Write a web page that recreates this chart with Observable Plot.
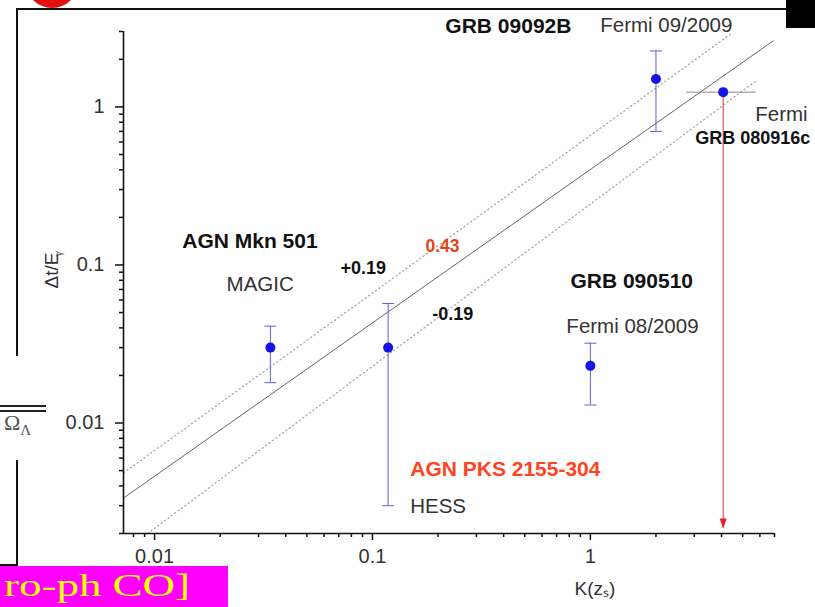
<!DOCTYPE html>
<html><head><meta charset="utf-8">
<script src="https://cdn.jsdelivr.net/npm/d3@7"></script>
<script src="https://cdn.jsdelivr.net/npm/@observablehq/plot@0.6"></script>
<style>
html,body{margin:0;padding:0;background:#fff;}
#wrap{position:relative;width:815px;height:607px;overflow:hidden;font-family:"Liberation Sans",Arial,sans-serif;}
#wrap svg{position:absolute;left:0;top:0;}
.d{position:absolute;}
</style></head><body><div id="wrap"></div>
<script>
// ---- data ----
const sources = ["AGN Mkn 501", "AGN PKS 2155-304", "GRB 090510", "GRB 090926", "GRB 080916c"];
const kz      = [0.034, 0.118, 1.0, 2.0, 4.07];
const dtE     = [0.030, 0.030, 0.023, 1.50, 1.24];
const dtELow  = [0.018, 0.0030, 0.013, 0.70, null];
const dtEHigh = [0.041, 0.057, 0.032, 2.26, null];
const kzLow   = [null, null, null, null, 2.76];
const kzHigh  = [null, null, null, null, 5.77];
const limitTo = [null, null, null, null, 0.00215];

// fit line (0.43) and its ±0.19 band, endpoints
const fitX = [0.0072, 6.91], fitY = [0.00335, 2.62];
const upX  = [0.0072, 4.48], upY  = [0.00483, 2.94];
const loX  = [0.0093, 5.83], loY  = [0.002, 1.48];

// ticks
const xMajor = [0.01, 0.1, 1];
const xMajorLabels = ["0.01", "0.1", "1"];
const xMinor = [0.008, 0.009, 0.02, 0.03, 0.04, 0.05, 0.06, 0.07, 0.08, 0.09, 0.2, 0.3, 0.4, 0.5, 0.6, 0.7, 0.8, 0.9, 2, 3, 4, 5, 6, 7];
const yMajor = [0.01, 0.1, 1];
const yMajorLabels = ["0.01", "0.1", "1"];
const yMinor = [0.002, 0.003, 0.004, 0.005, 0.006, 0.007, 0.008, 0.009, 0.02, 0.03, 0.04, 0.05, 0.06, 0.07, 0.08, 0.09, 0.2, 0.3, 0.4, 0.5, 0.6, 0.7, 0.8, 0.9, 2, 3];

// annotations (anchored at their left edge, in data units)
const boldText = ["GRB 09092B", "AGN Mkn 501", "GRB 090510"];
const boldX = [0.216, 0.0134, 0.81];
const boldY = [3.26, 0.142, 0.079];
const plainText = ["Fermi 09/2009", "Fermi", "MAGIC", "Fermi 08/2009", "HESS"];
const plainX = [1.11, 5.71, 0.0214, 0.776, 0.149];
const plainY = [3.26, 0.90, 0.0758, 0.041, 0.00298];
const smallBoldText = ["GRB 080916c", "+0.19", "-0.19"];
const smallBoldX = [3.03, 0.0713, 0.188];
const smallBoldY = [0.637, 0.0957, 0.049];
const slopeText = ["0.43"], slopeX = [0.175], slopeY = [0.132];
const redText = ["AGN PKS 2155-304"], redX = [0.149], redY = [0.00512];
const xLabel = "K(zₛ)";
const yLabel = "Δt/E";
const yLabelSub = "γ";

// ---- build ----
const pts = sources.map((s, i) => ({s, x: kz[i], y: dtE[i], lo: dtELow[i], hi: dtEHigh[i], xlo: kzLow[i], xhi: kzHigh[i], lim: limitTo[i]}));
const vErr = pts.filter(d => d.lo != null);
const hErr = pts.filter(d => d.xlo != null);
const lims = pts.filter(d => d.lim != null);
const line = (xs, ys) => xs.map((x, i) => ({x, y: ys[i]}));
const ann = (t, xs, ys) => t.map((s, i) => ({s, x: xs[i], y: ys[i]}));

const cap = {draw(ctx) { ctx.moveTo(-6, 0); ctx.lineTo(6, 0); }};
const head = {draw(ctx) { ctx.moveTo(-3.5, -10); ctx.lineTo(3.5, -10); ctx.lineTo(0, 0); ctx.closePath(); }};
const errColor = "#6060d4";

const chart = Plot.plot({
  width: 815, height: 607,
  marginLeft: 123, marginRight: 41, marginTop: 31, marginBottom: 74,
  style: {fontFamily: "'Liberation Sans', Arial, sans-serif", background: "transparent", overflow: "visible"},
  x: {type: "log", domain: [0.0072, 7], axis: null},
  y: {type: "log", domain: [0.002, 3], axis: null},
  marks: [
    Plot.line(line(upX, upY), {x: "x", y: "y", stroke: "#a0a0a0", strokeWidth: 1.2, strokeDasharray: "1.2,3"}),
    Plot.line(line(loX, loY), {x: "x", y: "y", stroke: "#a0a0a0", strokeWidth: 1.2, strokeDasharray: "1.2,3"}),
    Plot.line(line(fitX, fitY), {x: "x", y: "y", stroke: "#666", strokeWidth: 1}),
    Plot.ruleY(hErr, {y: "y", x1: "xlo", x2: "xhi", stroke: "#8a8a8a", strokeWidth: 1}),
    Plot.ruleX(lims, {x: "x", y1: "y", y2: "lim", stroke: "#e03030", strokeWidth: 1}),
    Plot.dot(lims, {x: "x", y: "lim", symbol: head, fill: "#e02020", stroke: "none", r: 5}),
    Plot.ruleX(vErr, {x: "x", y1: "lo", y2: "hi", stroke: errColor, strokeWidth: 1}),
    Plot.dot(vErr, {x: "x", y: "lo", symbol: cap, stroke: errColor, fill: "none", strokeWidth: 1}),
    Plot.dot(vErr, {x: "x", y: "hi", symbol: cap, stroke: errColor, fill: "none", strokeWidth: 1}),
    Plot.dot(pts, {x: "x", y: "y", r: 5, fill: "#1414e6", stroke: "none"}),
    Plot.ruleX([0.0072], {stroke: "#111", strokeWidth: 1.6}),
    Plot.ruleY([0.002], {stroke: "#111", strokeWidth: 1.6}),
    Plot.axisX(xMajor, {anchor: "bottom", tickSize: 7, tickPadding: 8, fontSize: 20, label: null, stroke: "#111", fill: "#333", strokeWidth: 1.5, tickFormat: d => xMajorLabels[xMajor.indexOf(d)]}),
    Plot.axisX(xMinor, {anchor: "bottom", tickSize: 4, label: null, stroke: "#111", strokeWidth: 1.5, tickFormat: () => ""}),
    Plot.axisY(yMajor, {anchor: "left", tickSize: 8, tickPadding: 11, fontSize: 20, label: null, stroke: "#111", fill: "#333", strokeWidth: 1.5, tickFormat: d => yMajorLabels[yMajor.indexOf(d)]}),
    Plot.axisY(yMinor, {anchor: "left", tickSize: 4, label: null, stroke: "#111", strokeWidth: 1.5, tickFormat: () => ""}),
    Plot.text(ann(boldText, boldX, boldY), {x: "x", y: "y", text: "s", textAnchor: "start", fontSize: 21, fontWeight: "bold", fill: "#111"}),
    Plot.text(ann(plainText, plainX, plainY), {x: "x", y: "y", text: "s", textAnchor: "start", fontSize: 20.5, fill: "#333"}),
    Plot.text(ann(smallBoldText, smallBoldX, smallBoldY), {x: "x", y: "y", text: "s", textAnchor: "start", fontSize: 18, fontWeight: "bold", fill: "#111"}),
    Plot.text(ann(slopeText, slopeX, slopeY), {x: "x", y: "y", text: "s", textAnchor: "start", fontSize: 17.5, fontWeight: "bold", fill: "#e04418"}),
    Plot.text(ann(redText, redX, redY), {x: "x", y: "y", text: "s", textAnchor: "start", fontSize: 21, fontWeight: "bold", fill: "#ff4422"}),
    Plot.text([xLabel], {frameAnchor: "bottom", dx: 146, dy: 61, fontSize: 19, fill: "#333"}),
    Plot.text([yLabel], {frameAnchor: "left", dx: -72, dy: 6, rotate: -90, fontSize: 19, fill: "#333"}),
    Plot.text([yLabelSub], {frameAnchor: "left", dx: -65, dy: -26, rotate: -90, fontSize: 11, fill: "#555"})
  ]
});
const wrap = document.getElementById("wrap");
wrap.appendChild(chart);

// slide fragments surrounding the chart
const deco = [
  `<div class="d" style="left:26px;top:-44px;width:52px;height:52px;border-radius:50%;background:#e31010"></div>`,
  `<div class="d" style="left:16px;top:8px;width:773px;height:2px;background:#111"></div>`,
  `<div class="d" style="left:786px;top:0;width:29px;height:28px;background:#000"></div>`,
  `<div class="d" style="left:16px;top:8px;width:2px;height:348px;background:#111"></div>`,
  `<div class="d" style="left:0;top:405px;width:46px;height:1.5px;background:#222"></div>`,
  `<div class="d" style="left:0;top:410px;width:46px;height:1.5px;background:#222"></div>`,
  `<div class="d" style="left:4px;top:410px;font-family:'Liberation Serif',serif;font-size:22px;color:#555">Ω<sub style="font-size:15px">Λ</sub></div>`,
  `<div class="d" style="left:16px;top:460px;width:2px;height:106px;background:#111"></div>`,
  `<div class="d" style="left:0;top:564px;width:18px;height:2px;background:#111"></div>`,
  `<div class="d" style="left:0;top:566px;width:228px;height:41px;background:#ff00ff;overflow:hidden"><div style="position:absolute;left:4px;top:2px;font-family:'Liberation Serif',serif;font-size:31px;line-height:36px;color:#ffff00;white-space:nowrap;transform:scaleX(1.45);transform-origin:0 0">ro-ph CO]</div></div>`
];
wrap.insertAdjacentHTML("beforeend", deco.join(""));
</script>
</body></html>
